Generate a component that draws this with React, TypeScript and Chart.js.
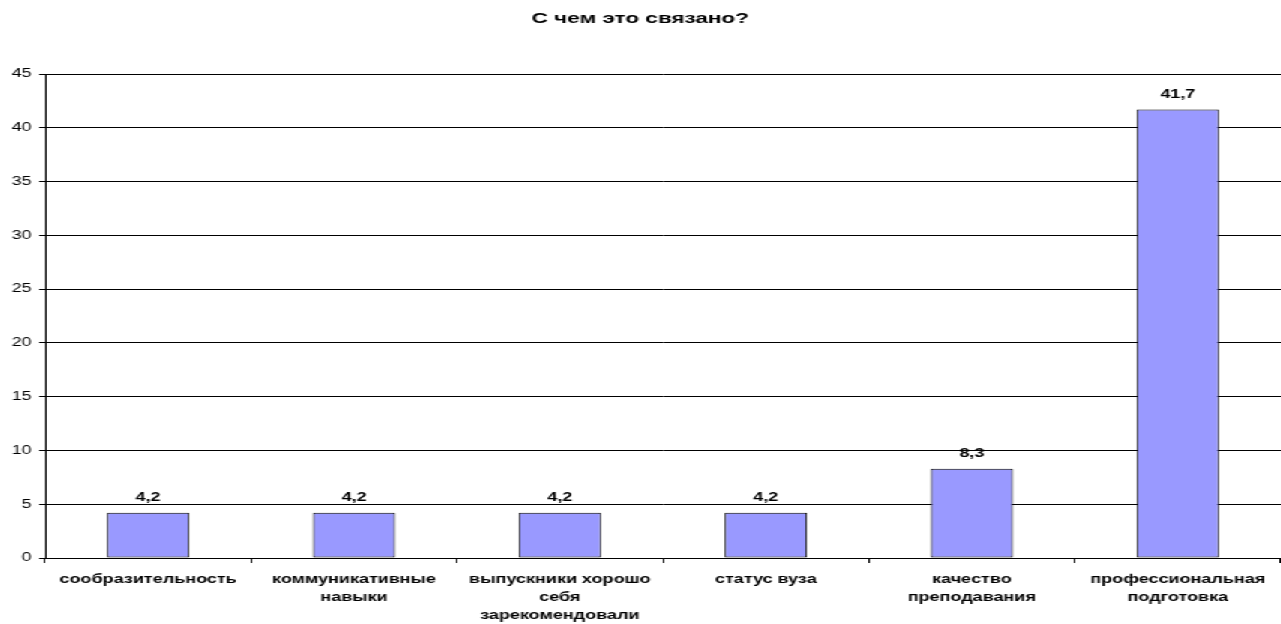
import React, { useEffect, useRef } from "react";
import { Chart, registerables } from "chart.js";

Chart.register(...registerables);

const categories: string[][] = [
  ["сообразительность"],
  ["коммуникативные", "навыки"],
  ["выпускники хорошо", "себя", "зарекомендовали"],
  ["статус вуза"],
  ["качество", "преподавания"],
  ["профессиональная", "подготовка"],
];
const values: number[] = [4.2, 4.2, 4.2, 4.2, 8.3, 41.7];
const valueTexts: string[] = ["4,2", "4,2", "4,2", "4,2", "8,3", "41,7"];
const chartTitle = "С чем это связано?";
const yMin = 0;
const yMax = 45;
const yStep = 5;

const SX = 1.5;
const W = 1281 / SX;
const H = 624;
const FONT = 'Arial, "Liberation Sans", sans-serif';

const valueLabels = {
  id: "valueLabels",
  afterDatasetsDraw(chart: any) {
    const ctx = chart.ctx;
    const meta = chart.getDatasetMeta(0);
    ctx.save();
    ctx.font = `bold 12px ${FONT}`;
    ctx.fillStyle = "#000";
    ctx.textAlign = "center";
    ctx.textBaseline = "middle";
    meta.data.forEach((el: any, i: number) => {
      ctx.fillText(valueTexts[i], el.x, el.y - 15);
    });
    ctx.restore();
  },
};

export default function App() {
  const ref = useRef<HTMLCanvasElement | null>(null);
  useEffect(() => {
    if (!ref.current) return;
    const chart = new Chart(ref.current, {
      type: "bar",
      data: {
        labels: categories,
        datasets: [
          {
            data: values,
            backgroundColor: "#9999FF",
            borderColor: "#000",
            borderWidth: 1,
            borderSkipped: false,
            barPercentage: 0.4,
            categoryPercentage: 1,
          },
        ],
      },
      plugins: [valueLabels],
      options: {
        animation: false,
        responsive: false,
        layout: { padding: 0 },
        plugins: {
          legend: { display: false },
          tooltip: { enabled: false },
          title: {
            display: true,
            text: chartTitle,
            color: "#000",
            font: { family: FONT, size: 15, weight: "bold", lineHeight: 1.2 },
            padding: { top: 10, bottom: 46 },
          },
        },
        scales: {
          x: {
            grid: {
              display: true,
              drawOnChartArea: false,
              drawTicks: true,
              tickLength: 5,
              color: "#000",
              offset: true,
            },
            border: { display: true, color: "#000", width: 1 },
            ticks: {
              color: "#000",
              font: { family: FONT, size: 12, weight: "bold", lineHeight: 1.5 },
              padding: 8,
              maxRotation: 0,
              autoSkip: false,
            },
            afterFit(s: any) {
              s.height = 66;
            },
          },
          y: {
            min: yMin,
            max: yMax,
            ticks: {
              stepSize: yStep,
              color: "#000",
              font: { family: FONT, size: 12 },
              padding: 5,
            },
            grid: { color: "#000", tickLength: 4, drawTicks: true },
            border: { display: true, color: "#000", width: 1 },
            afterFit(s: any) {
              s.width = 30;
            },
          },
        },
      },
    } as any);
    return () => chart.destroy();
  }, []);
  return (
    <div
      style={{
        position: "fixed",
        left: 0,
        top: 0,
        width: W + "px",
        height: H + "px",
        transform: `scaleX(${SX})`,
        transformOrigin: "0 0",
        background: "#fff",
      }}
    >
      <canvas
        ref={ref}
        width={W}
        height={H}
        style={{ display: "block", width: W + "px", height: H + "px" }}
      />
    </div>
  );
}
